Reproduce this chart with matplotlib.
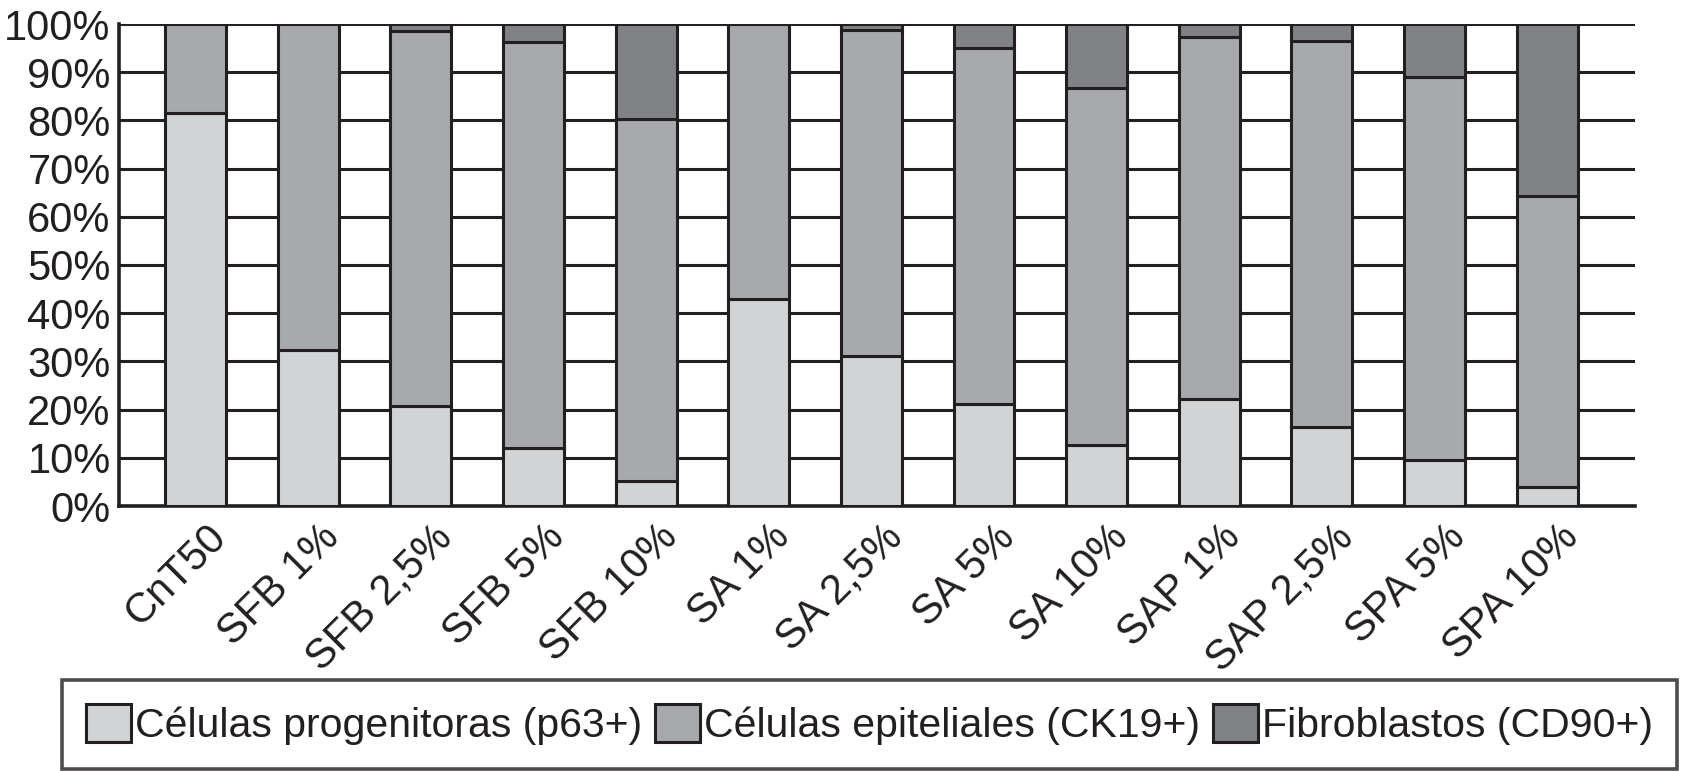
import numpy as np
import matplotlib
matplotlib.use("Agg")
import matplotlib.pyplot as plt
import matplotlib.transforms as mtransforms

plt.rcParams['font.family'] = ['Liberation Sans', 'DejaVu Sans']

categories = ['CnT50', 'SFB 1%', 'SFB 2,5%', 'SFB 5%', 'SFB 10%', 'SA 1%', 'SA 2,5%',
              'SA 5%', 'SA 10%', 'SAP 1%', 'SAP 2,5%', 'SPA 5%', 'SPA 10%']
progenitoras = [81.6, 32.4, 20.8, 12.0, 5.1, 43.0, 31.1, 21.1, 12.6, 22.2, 16.3, 9.5, 3.9]
epiteliales = [18.4, 67.6, 77.8, 84.2, 75.1, 57.0, 67.6, 74.0, 74.2, 75.1, 80.1, 79.6, 60.4]
fibroblastos = [0.0, 0.0, 1.4, 3.8, 19.8, 0.0, 1.3, 4.9, 13.2, 2.7, 3.6, 10.9, 35.7]

series_names = ['Células progenitoras (p63+)', 'Células epiteliales (CK19+)', 'Fibroblastos (CD90+)']
colors = ['#d1d3d4', '#a7a9ac', '#808285']
ink = '#231f20'

fig = plt.figure(figsize=(16.98, 7.71), dpi=100)
ax = fig.add_axes([119 / 1698, 1 - 506 / 771, (1635 - 119) / 1698, 482 / 771])

x = np.arange(len(categories))
bottom = np.zeros(len(categories))
handles = []
for vals, name, c in zip([progenitoras, epiteliales, fibroblastos], series_names, colors):
    vals = np.array(vals)
    b = ax.bar(x, vals, 0.54, bottom=bottom, color=c, edgecolor=ink, linewidth=2.2,
               label=name, zorder=3)
    handles.append(b)
    bottom += vals

ax.set_ylim(0, 100)
ax.set_xlim(-0.68, 12.78)
ax.set_yticks(np.arange(0, 101, 10))
ax.set_yticklabels([f'{v}%' for v in range(0, 101, 10)])
ax.yaxis.grid(True, color=ink, linewidth=2.2, zorder=0)
ax.set_axisbelow(True)
for s in ['top', 'right']:
    ax.spines[s].set_visible(False)
for s in ['left', 'bottom']:
    ax.spines[s].set_color(ink)
    ax.spines[s].set_linewidth(2.6)
ax.tick_params(axis='both', length=0, labelsize=30, colors=ink, pad=6)

ax.set_xticks(x)
ax.set_xticklabels(categories, rotation=45, ha='right', va='center', rotation_mode='anchor')
offset = mtransforms.ScaledTranslation(0.25, -0.17, fig.dpi_scale_trans)
for lab in ax.get_xticklabels():
    lab.set_transform(lab.get_transform() + offset)

leg = fig.legend(handles=handles, loc='center', ncol=3,
                 bbox_to_anchor=(62 / 1698, 0.003, (1677 - 62) / 1698, 0.115),
                 mode='expand', fontsize=29.5, frameon=True, fancybox=False,
                 handlelength=1.1, handleheight=1.05, handletextpad=0.1,
                 columnspacing=0.3, borderpad=0.58, borderaxespad=0)
leg.get_frame().set_edgecolor(ink)
leg.get_frame().set_linewidth(2.6)
for t in leg.get_texts():
    t.set_color(ink)

fig.savefig('out.png', dpi=100)
